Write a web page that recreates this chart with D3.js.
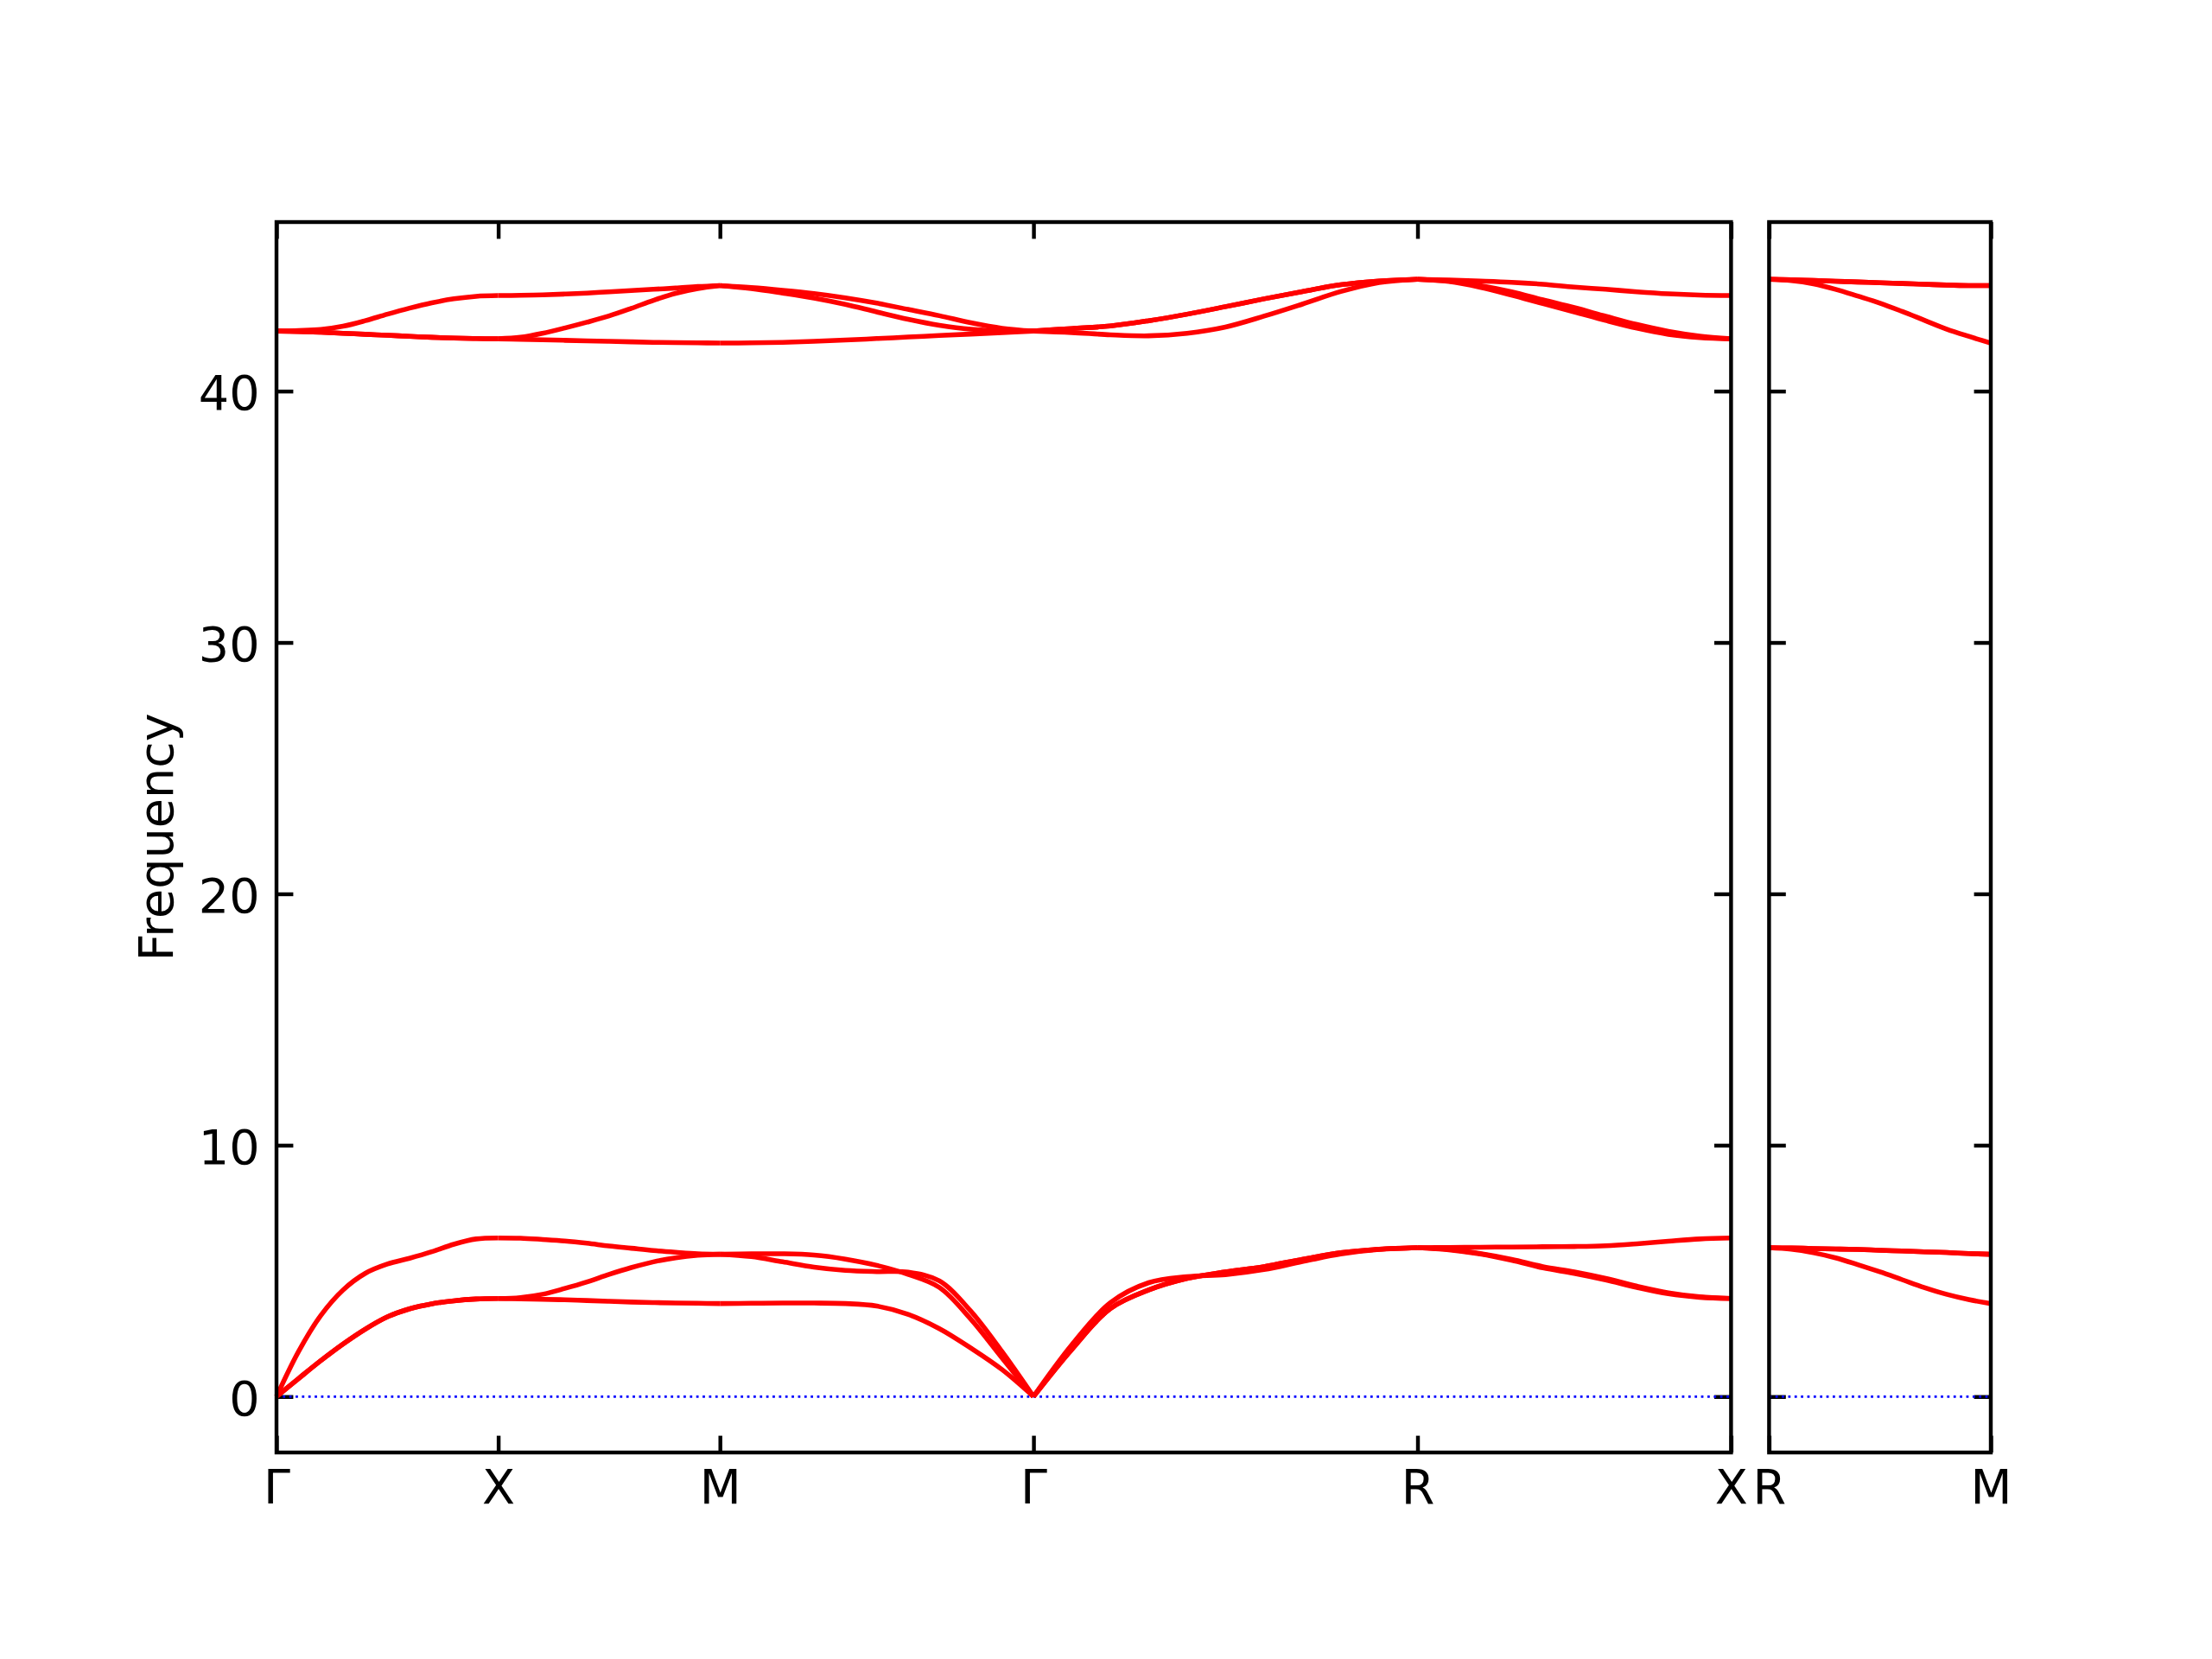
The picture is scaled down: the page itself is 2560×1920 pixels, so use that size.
<!DOCTYPE html>
<html><head><meta charset="utf-8">
<script src="https://cdn.jsdelivr.net/npm/d3@7"></script>
<style>html,body{margin:0;padding:0;background:#fff}</style>
</head><body>
<script>
// ---- Data ----
const segmentNames = [["Γ","X"],["X","M"],["M","Γ"],["Γ","R"],["R","X"]];
const segmentLengths = [0.5, 0.5, 0.7071, 0.8660, 0.7071];
const segmentNames2 = [["R","M"]];
const segmentLengths2 = [0.5];
const fractions = [0,0.1,0.2,0.3,0.4,0.5,0.6,0.7,0.8,0.9,1];
const yTicks = [0,10,20,30,40];
const yLabel = "Frequency";

const bandsGX = [
  [0,0.72,1.43,2.09,2.68,3.17,3.49,3.69,3.81,3.88,3.90],
  [0,0.72,1.43,2.09,2.68,3.17,3.49,3.69,3.81,3.88,3.90],
  [0,1.80,3.23,4.24,4.90,5.27,5.50,5.76,6.06,6.27,6.31],
  [42.39,42.37,42.34,42.30,42.26,42.22,42.18,42.14,42.11,42.09,42.08],
  [42.39,42.37,42.34,42.30,42.26,42.22,42.18,42.14,42.11,42.09,42.08],
  [42.39,42.41,42.45,42.58,42.80,43.06,43.30,43.51,43.67,43.77,43.80]
];
const bandsXM = [
  [3.90,3.89,3.87,3.85,3.82,3.79,3.76,3.74,3.72,3.71,3.70],
  [3.90,3.94,4.07,4.30,4.56,4.86,5.13,5.36,5.52,5.62,5.66],
  [6.31,6.30,6.25,6.19,6.10,5.99,5.90,5.81,5.74,5.68,5.66],
  [42.08,42.06,42.04,42.02,42.00,41.98,41.96,41.94,41.93,41.92,41.91],
  [42.08,42.14,42.30,42.51,42.74,42.99,43.29,43.61,43.89,44.08,44.20],
  [43.80,43.81,43.83,43.86,43.90,43.95,44.00,44.05,44.10,44.16,44.20]
];
const bandsMG = [
  [3.70,3.71,3.72,3.72,3.70,3.60,3.27,2.70,1.93,1.07,0],
  [5.66,5.68,5.68,5.63,5.47,5.22,4.86,4.34,3.08,1.53,0],
  [5.66,5.57,5.36,5.15,5.02,4.97,4.95,4.60,3.40,1.78,0],
  [41.91,41.92,41.94,41.98,42.03,42.09,42.15,42.21,42.27,42.33,42.39],
  [44.20,44.08,43.90,43.70,43.45,43.15,42.86,42.62,42.46,42.40,42.39],
  [44.20,44.12,44.01,43.88,43.71,43.50,43.25,43.00,42.72,42.50,42.39]
];
const bandsGR = [
  [0,1.88,3.50,4.24,4.70,4.96,5.17,5.46,5.72,5.86,5.92],
  [0,1.88,3.50,4.24,4.70,4.96,5.17,5.46,5.72,5.86,5.92],
  [0,2.06,3.73,4.53,4.77,4.85,5.05,5.37,5.67,5.85,5.92],
  [42.39,42.33,42.24,42.20,42.30,42.55,42.98,43.46,43.96,44.32,44.45],
  [42.39,42.49,42.59,42.80,43.06,43.36,43.67,43.96,44.23,44.38,44.45],
  [42.39,42.49,42.59,42.80,43.06,43.36,43.67,43.96,44.23,44.38,44.45]
];
const bandsRX = [
  [5.92,5.84,5.67,5.42,5.12,4.90,4.64,4.34,4.09,3.95,3.90],
  [5.92,5.85,5.69,5.46,5.17,4.96,4.70,4.39,4.13,3.97,3.90],
  [5.92,5.93,5.94,5.95,5.96,5.97,6.00,6.08,6.18,6.27,6.31],
  [44.45,44.36,44.13,43.82,43.48,43.15,42.81,42.50,42.26,42.13,42.08],
  [44.45,44.38,44.20,43.95,43.63,43.32,42.98,42.65,42.38,42.19,42.08],
  [44.45,44.42,44.38,44.33,44.25,44.14,44.05,43.95,43.87,43.82,43.80]
];
const bandsRM = [
  [5.92,5.86,5.72,5.52,5.25,4.96,4.65,4.34,4.07,3.86,3.70],
  [5.92,5.91,5.89,5.87,5.85,5.82,5.79,5.76,5.73,5.69,5.66],
  [5.92,5.91,5.89,5.87,5.85,5.82,5.79,5.76,5.73,5.69,5.66],
  [44.45,44.40,44.27,44.05,43.78,43.50,43.17,42.82,42.47,42.18,41.91],
  [44.45,44.43,44.40,44.37,44.34,44.31,44.28,44.25,44.22,44.20,44.20],
  [44.45,44.43,44.40,44.37,44.34,44.31,44.28,44.25,44.22,44.20,44.20]
];
const panel1Bands = [bandsGX, bandsXM, bandsMG, bandsGR, bandsRX];
const panel2Bands = [bandsRM];

// ---- Layout ----
const W = 2560, H = 1920;
const plotTop = 257, plotBottom = 1681, plotLeft = 320, plotRight = 2304, panelGap = 44;
const fontSize = 55.6, lw = 4.44, tickLen = 19.4, pad = 19.4;
const lineW = 5.56;

const svg = d3.select("body").append("svg")
  .attr("width", W).attr("height", H)
  .attr("font-family", "DejaVu Sans");
svg.append("rect").attr("width", W).attr("height", H).attr("fill", "#fff");

const total1 = d3.sum(segmentLengths), total2 = d3.sum(segmentLengths2);
const unit = (plotRight - plotLeft - panelGap) / (total1 + total2);
const p1 = [plotLeft, plotLeft + total1 * unit];
const p2 = [p1[1] + panelGap, plotRight];

const y = d3.scaleLinear().domain([-2.225, 46.725]).range([plotBottom, plotTop]);

function drawPanel(xr, lens, names, bandSets, showY) {
  const total = d3.sum(lens);
  const x = d3.scaleLinear().domain([0, total]).range(xr);
  const cum = [0];
  lens.forEach(l => cum.push(cum[cum.length - 1] + l));
  const labels = [names[0][0]].concat(names.map(n => n[1]));
  const g = svg.append("g");

  function styleAxis(ax) {
    ax.select(".domain").remove();
    ax.selectAll(".tick line").attr("stroke", "#000").attr("stroke-width", lw);
    ax.selectAll("text").attr("fill", "#000").attr("font-size", fontSize)
      .attr("font-family", "DejaVu Sans");
  }
  const axL = g.append("g").attr("transform", `translate(${xr[0]},0)`)
    .call(d3.axisLeft(y).tickValues(yTicks).tickSizeInner(-tickLen).tickSizeOuter(0)
      .tickPadding(pad).tickFormat(showY ? d3.format("d") : () => ""));
  styleAxis(axL);
  axL.selectAll("text").attr("dy", "0.38em");
  const axR = g.append("g").attr("transform", `translate(${xr[1]},0)`)
    .call(d3.axisRight(y).tickValues(yTicks).tickSizeInner(-tickLen).tickSizeOuter(0).tickFormat(() => ""));
  styleAxis(axR);
  const axB = g.append("g").attr("transform", `translate(0,${plotBottom})`)
    .call(d3.axisBottom(x).tickValues(cum).tickSizeInner(-tickLen).tickSizeOuter(0)
      .tickPadding(pad).tickFormat((d, i) => labels[i]));
  styleAxis(axB);
  axB.selectAll("text").attr("dy", "0.71em");
  const axT = g.append("g").attr("transform", `translate(0,${plotTop})`)
    .call(d3.axisTop(x).tickValues(cum).tickSizeInner(-tickLen).tickSizeOuter(0).tickFormat(() => ""));
  styleAxis(axT);

  g.append("line").attr("x1", xr[0]).attr("x2", xr[1])
    .attr("y1", y(0)).attr("y2", y(0))
    .attr("stroke", "#0000ff").attr("stroke-width", 2.78)
    .attr("stroke-dasharray", "2.78,4.58");

  const line = d3.line().curve(d3.curveCatmullRom.alpha(0.5));
  bandSets.forEach((seg, s) => {
    seg.forEach(band => {
      const pts = band.map((v, i) => [x(cum[s] + fractions[i] * lens[s]), y(v)]);
      g.append("path").attr("d", line(pts)).attr("fill", "none")
        .attr("stroke", "#ff0000").attr("stroke-width", lineW)
        .attr("stroke-linejoin", "round");
    });
  });

  g.append("rect").attr("x", xr[0]).attr("y", plotTop)
    .attr("width", xr[1] - xr[0]).attr("height", plotBottom - plotTop)
    .attr("fill", "none").attr("stroke", "#000").attr("stroke-width", lw);
}

drawPanel(p1, segmentLengths, segmentNames, panel1Bands, true);
drawPanel(p2, segmentLengths2, segmentNames2, panel2Bands, false);

svg.append("text")
  .attr("transform", `translate(200,${(plotTop + plotBottom) / 2}) rotate(-90)`)
  .attr("text-anchor", "middle").attr("font-size", fontSize).attr("fill", "#000")
  .text(yLabel);
</script>
</body></html>
